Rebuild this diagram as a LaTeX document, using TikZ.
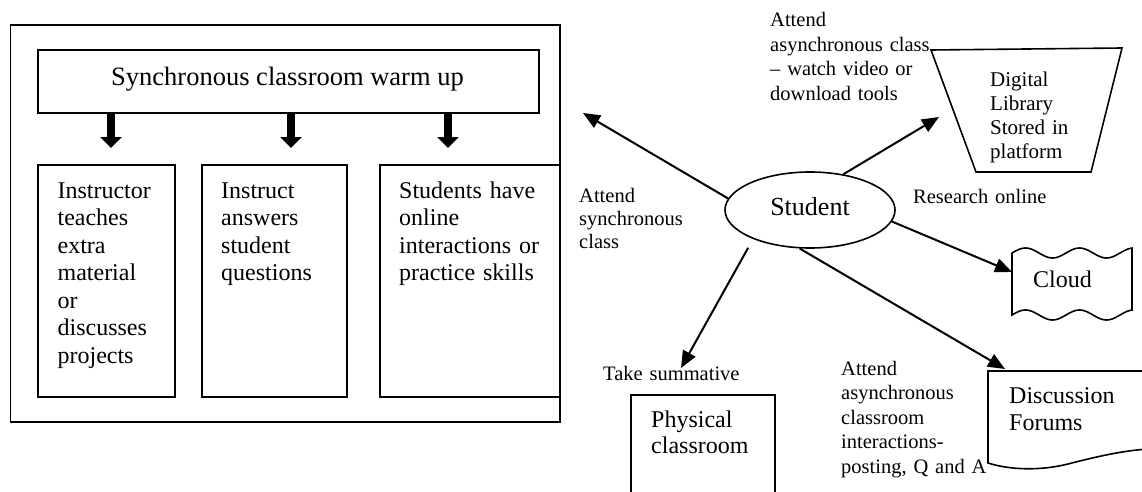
\documentclass[tikz,border=0pt]{standalone}
\usepackage{fontspec}
\setmainfont{Liberation Serif}
\usetikzlibrary{arrows.meta,shapes.geometric,calc}
\begin{document}
\begin{tikzpicture}[x=1pt,y=-1pt,
  box/.style={draw, line width=1.6pt, rectangle, inner sep=0pt, anchor=north west},
  shp/.style={draw, line width=1.6pt},
  btext/.style={anchor=base west, inner sep=0pt, text width=200pt, align=left, font=\fontsize{24}{27.5}\selectfont},
  mtext/.style={anchor=base west, inner sep=0pt, text width=200pt, align=left, font=\fontsize{24}{26.5}\selectfont},
  lbl/.style={anchor=base west, inner sep=0pt, text width=220pt, align=left, font=\fontsize{20.5}{24.5}\selectfont},
  conn/.style={line width=2pt, -{Triangle[length=17pt,width=14pt]}},
  blk/.style={line width=8pt, -{Triangle[length=11pt,width=21pt]}}
]
\useasboundingbox (0,0) rectangle (1142,492);
\clip (0,0) rectangle (1142,492);

% left group
\node[box, minimum width=549.5pt, minimum height=397pt] (outer) at (9.5,24) {};
\node[box, minimum width=501pt, minimum height=63pt] (hdr) at (37,49) {};
\node[anchor=base, inner sep=0pt, font=\fontsize{26.5}{30}\selectfont] (hdrt) at (287.5,86) {Synchronous classroom warm up};
\node[box, minimum width=137pt, minimum height=232pt] (b1) at (37,164) {};
\node[box, minimum width=145pt, minimum height=232pt] (b2) at (201,164) {};
\node[box, minimum width=180pt, minimum height=232pt] (b3) at (379,164) {};
\node[btext] (t1) at (57.4,198) {Instructor\\teaches\\extra\\material\\or\\discusses\\projects};
\node[btext] (t2) at (221,198) {Instruct\\answers\\student\\questions};
\node[btext] (t3) at (399,198) {Students have\\online\\interactions or\\practice skills};
\coordinate (a1) at (111,0);
\coordinate (a2) at (291,0);
\coordinate (a3) at (448,0);
\draw[blk, shorten >=16pt] (hdr.south -| a1) -- (b1.north -| a1);
\draw[blk, shorten >=16pt] (hdr.south -| a2) -- (b2.north -| a2);
\draw[blk, shorten >=16pt] (hdr.south -| a3) -- (b3.north -| a3);

% student
\node[draw, ellipse, line width=1.6pt, minimum width=170pt, minimum height=76pt, inner sep=0pt, text depth=8pt, font=\fontsize{26}{30}\selectfont] (stu) at (810,210) {Student};

% digital library
\draw[shp] (931,50) -- (1122,48) -- (1091,172) -- (976,172) -- cycle;
\node[lbl, font=\fontsize{21}{24}\selectfont] (lib) at (990,87) {Digital\\Library\\Stored in\\platform};

% cloud
\draw[shp] plot[domain=0:120,samples=61] ({1012+\x},{253-5*sin(6.667*\x)}) -- plot[domain=120:0,samples=61] ({1012+\x},{315-5*sin(6.667*\x)}) -- cycle;
\node[mtext] (cloud) at (1033,287) {Cloud};

% discussion forums
\draw[shp] (1150,371) -- (988,371) -- (988,463) .. controls (1010,470) and (1040,471) .. (1068,464) .. controls (1095,457) and (1125,450) .. (1150,449);
\node[mtext, font=\fontsize{24}{27}\selectfont] (disc) at (1009,403) {Discussion\\Forums};

% physical classroom
\node[box, minimum width=144pt, minimum height=130pt] (phys) at (630,394) {};
\node[mtext] (physt) at (651,427) {Physical\\classroom};

% labels
\node[lbl] (la) at (770,27) {Attend\\asynchronous class\\– watch video or\\download tools};
\node[lbl, font=\fontsize{20.5}{23}\selectfont] (lb) at (579,202) {Attend\\synchronous\\class};
\node[lbl] (lc) at (913,203) {Research online};
\node[lbl] (take) at (603,380) {Take summative};
\node[lbl] (ld) at (841,375) {Attend\\asynchronous\\classroom\\interactions-\\posting, Q and A};

% connectors
\coordinate (synctip) at (583,113);
\coordinate (libtip) at (939,117);
\coordinate (cloudtip) at (1012,272);
\coordinate (phystip) at (681,368);
\coordinate (disctip) at (1005,369);
\draw[conn] (stu.172) -- (synctip);
\draw[conn] (stu.47) -- (libtip);
\draw[conn] (stu.-8) -- (cloudtip);
\draw[conn, shorten <=10pt] (stu.-153) -- (phystip);
\draw[conn] (stu.-105) -- (disctip);
\end{tikzpicture}
\end{document}
